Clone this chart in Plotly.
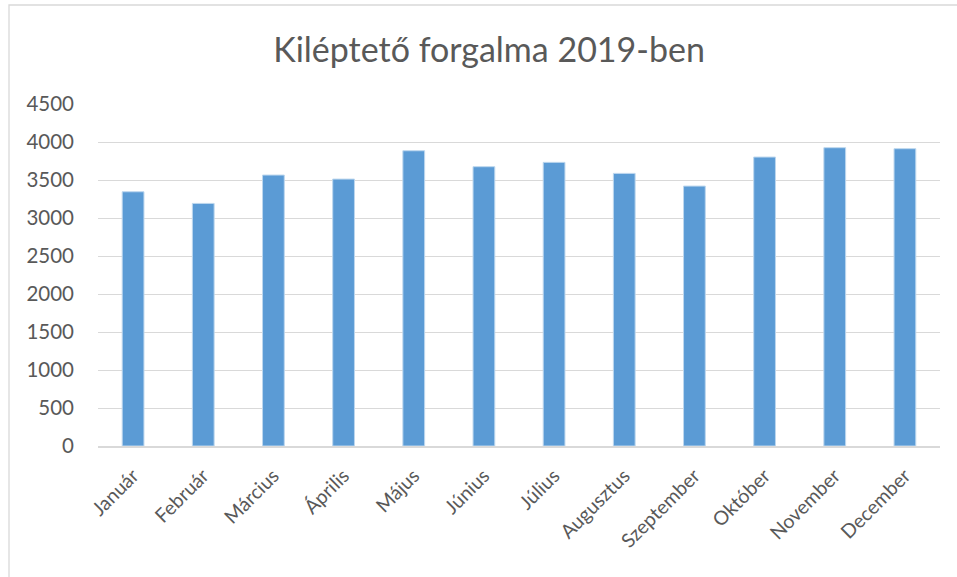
import plotly.graph_objects as go

honapok = ["Január", "Február", "Március", "Április", "Május", "Június",
           "Július", "Augusztus", "Szeptember", "Október", "November", "December"]
forgalom = [3345, 3192, 3565, 3512, 3885, 3675, 3732, 3587, 3420, 3802, 3925, 3912]
y_ticks = [0, 500, 1000, 1500, 2000, 2500, 3000, 3500, 4000, 4500]

szoveg = "#595959"
racs = "#D9D9D9"
betu = "Lato, 'Open Sans', sans-serif"

fig = go.Figure()
fig.add_trace(go.Bar(
    x=honapok, y=forgalom,
    marker=dict(color="#5B9BD5", line=dict(color="#BDD7EE", width=1)),
))

fig.update_layout(
    width=957, height=577,
    margin=dict(l=98, r=17, t=104, b=131),
    paper_bgcolor="white", plot_bgcolor="white",
    bargap=0.69,
    showlegend=False,
    title=dict(text="Kiléptető forgalma 2019-ben", x=0.511, xanchor="center",
               xref="container", yref="container",
               y=0.913, yanchor="middle",
               font=dict(family=betu, size=34, color=szoveg)),
    font=dict(family=betu, size=19, color=szoveg),
)
fig.update_xaxes(tickangle=-45, showgrid=False, showline=True, linecolor=racs,
                 linewidth=1.5, ticks="", automargin=False, ticklabelstandoff=9,
                 tickfont=dict(size=19.5, color=szoveg))
fig.update_yaxes(range=[0, 4500], tickvals=y_ticks, showgrid=True, gridcolor=racs,
                 gridwidth=1.3, zeroline=False, showline=False, ticks="",
                 automargin=False, ticklabelstandoff=23,
                 tickfont=dict(size=20.5, color=szoveg))

# keret a diagram körül
fig.add_shape(type="rect", xref="paper", yref="paper",
              x0=-0.1057, x1=1.2, y0=-0.6, y1=1.2895,
              line=dict(color=racs, width=1.3), layer="below")

# az oldal alap margója nélkül
fig.write_html("out.html", config={"displayModeBar": False},
               post_script="document.body.style.margin='0';")
